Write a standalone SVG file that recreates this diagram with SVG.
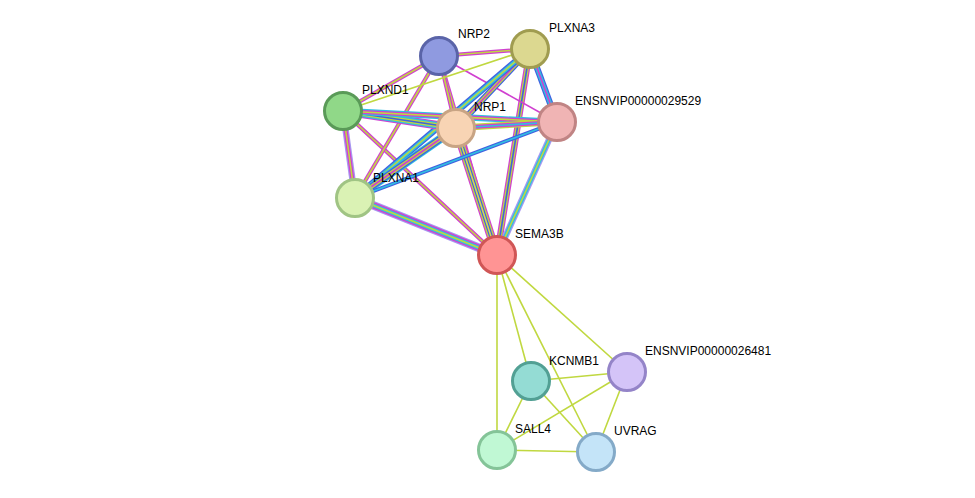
<svg xmlns="http://www.w3.org/2000/svg" width="975" height="498" viewBox="0 0 975 498">
<style>
text{font-family:"Liberation Sans",Arial,sans-serif;font-size:12px;fill:#000}
.n{stroke-width:3}
line{stroke-linecap:butt}
.g{stroke:#c0d840}.m{stroke:#d040d0}.b{stroke:#4060e0}.c{stroke:#30c0e0}.l{stroke:#a898f0}.y{stroke:#d8d850}
.w1{stroke-width:1.6}.w2{stroke-width:4}.w3{stroke-width:6.4}.w4{stroke-width:8.8}
</style>
<rect width="975" height="498" fill="#fff"/>
<g id="edges" fill="none">
<g class="bottom" stroke="#c0d840" stroke-width="1.6">
<line x1="497" y1="255" x2="531" y2="381"/><line x1="497" y1="255" x2="627" y2="372"/>
<line x1="497" y1="255" x2="497" y2="450"/><line x1="497" y1="255" x2="596" y2="452"/>
<line x1="531" y1="381" x2="627" y2="372"/><line x1="531" y1="381" x2="497" y2="450"/>
<line x1="531" y1="381" x2="596" y2="452"/><line x1="627" y1="372" x2="497" y2="450"/>
<line x1="627" y1="372" x2="596" y2="452"/><line x1="497" y1="450" x2="596" y2="452"/>
</g>
<!-- SEMA3B-NRP2 -->
<line x1="497" y1="255" x2="439" y2="56" class="m w2"/><line x1="497" y1="255" x2="439" y2="56" class="g w1"/>
<!-- SEMA3B-PLXNA3 -->
<line x1="497" y1="255" x2="530" y2="49" class="m w3"/><line x1="497" y1="255" x2="530" y2="49" class="g w2"/><line x1="497" y1="255" x2="530" y2="49" class="b w1"/>
<!-- SEMA3B-NRP1 -->
<line x1="497" y1="255" x2="456" y2="128" class="m w4"/><line x1="497" y1="255" x2="456" y2="128" class="g w3"/><line x1="497" y1="255" x2="456" y2="128" class="b w2"/><line x1="497" y1="255" x2="456" y2="128" class="y w1"/>
<!-- SEMA3B-29529 -->
<line x1="497" y1="255" x2="557" y2="122" class="l w3"/><line x1="497" y1="255" x2="557" y2="122" class="c w2"/><line x1="497" y1="255" x2="557" y2="122" class="g w1"/>
<!-- SEMA3B-PLXNA1 -->
<line x1="497" y1="255" x2="355" y2="198" class="l w4"/><line x1="497" y1="255" x2="355" y2="198" class="m w3"/><line x1="497" y1="255" x2="355" y2="198" class="c w2"/><line x1="497" y1="255" x2="355" y2="198" class="g w1"/>
<!-- SEMA3B-PLXND1 -->
<line x1="497" y1="255" x2="343" y2="111" class="m w2"/><line x1="497" y1="255" x2="343" y2="111" class="g w1"/>
<!-- NRP2 edges -->
<line x1="439" y1="56" x2="530" y2="49" class="m w2"/><line x1="439" y1="56" x2="530" y2="49" class="g w1"/>
<line x1="439" y1="56" x2="343" y2="111" class="m w2"/><line x1="439" y1="56" x2="343" y2="111" class="g w1"/>
<line x1="439" y1="56" x2="456" y2="128" class="m w2"/><line x1="439" y1="56" x2="456" y2="128" class="g w1"/>
<line x1="439" y1="56" x2="557" y2="122" class="m w1"/>
<line x1="439" y1="56" x2="355" y2="198" class="m w2"/><line x1="439" y1="56" x2="355" y2="198" class="g w1"/>
<!-- PLXNA3 edges -->
<line x1="530" y1="49" x2="456" y2="128" class="b w3"/><line x1="530" y1="49" x2="456" y2="128" class="g w2"/><line x1="530" y1="49" x2="456" y2="128" class="m w1"/>
<line x1="530" y1="49" x2="557" y2="122" class="b w3"/><line x1="530" y1="49" x2="557" y2="122" class="c w2"/><line x1="530" y1="49" x2="557" y2="122" class="m w1"/>
<line x1="530" y1="49" x2="355" y2="198" class="b w3"/><line x1="530" y1="49" x2="355" y2="198" class="c w2"/><line x1="530" y1="49" x2="355" y2="198" class="g w1"/>
<line x1="530" y1="49" x2="343" y2="111" class="g w1"/>
<!-- PLXND1 edges -->
<line x1="343" y1="111" x2="456" y2="128" class="m w4"/><line x1="343" y1="111" x2="456" y2="128" class="c w3"/><line x1="343" y1="111" x2="456" y2="128" class="g w2"/><line x1="343" y1="111" x2="456" y2="128" class="b w1"/>
<line x1="343" y1="111" x2="557" y2="122" class="c w3"/><line x1="343" y1="111" x2="557" y2="122" class="m w2"/><line x1="343" y1="111" x2="557" y2="122" class="g w1"/>
<line x1="343" y1="111" x2="355" y2="198" class="l w3"/><line x1="343" y1="111" x2="355" y2="198" class="m w2"/><line x1="343" y1="111" x2="355" y2="198" class="g w1"/>
<!-- NRP1 edges -->
<line x1="456" y1="128" x2="557" y2="122" class="g w3"/><line x1="456" y1="128" x2="557" y2="122" class="m w2"/><line x1="456" y1="128" x2="557" y2="122" class="c w1"/>
<line x1="456" y1="128" x2="355" y2="198" class="c w4"/><line x1="456" y1="128" x2="355" y2="198" class="b w3"/><line x1="456" y1="128" x2="355" y2="198" class="g w2"/><line x1="456" y1="128" x2="355" y2="198" class="m w1"/>
<line x1="355" y1="198" x2="557" y2="122" class="b w2"/><line x1="355" y1="198" x2="557" y2="122" class="c w1"/>
</g>
<g id="NRP2"><circle cx="439" cy="56" r="18.5" fill="#8f9ae0" stroke="#5a64a8" class="n"/><text x="458" y="38">NRP2</text></g>
<g id="PLXNA3"><circle cx="530" cy="49" r="18.5" fill="#dcd890" stroke="#a09c50" class="n"/><text x="549" y="32">PLXNA3</text></g>
<g id="PLXND1"><circle cx="343" cy="111" r="18.5" fill="#90d888" stroke="#5a9a58" class="n"/><text x="362" y="94">PLXND1</text></g>
<g id="NRP1"><circle cx="456" cy="128" r="18.5" fill="#f8d4b4" stroke="#c8a484" class="n"/><text x="474" y="111">NRP1</text></g>
<g id="ENSNVIP00000029529"><circle cx="557" cy="122" r="18.5" fill="#f0b4b4" stroke="#c08484" class="n"/><text x="575" y="105">ENSNVIP00000029529</text></g>
<g id="PLXNA1"><circle cx="355" cy="198" r="18.5" fill="#daf2b4" stroke="#a0c484" class="n"/><text x="373" y="182">PLXNA1</text></g>
<g id="SEMA3B"><circle cx="497" cy="255" r="18.5" fill="#ff9494" stroke="#d05656" class="n"/><text x="515" y="238">SEMA3B</text></g>
<g id="KCNMB1"><circle cx="531" cy="381" r="18.5" fill="#94dcd4" stroke="#52a094" class="n"/><text x="549" y="365">KCNMB1</text></g>
<g id="ENSNVIP00000026481"><circle cx="627" cy="372" r="18.5" fill="#d4c4f8" stroke="#9484c8" class="n"/><text x="645" y="355">ENSNVIP00000026481</text></g>
<g id="SALL4"><circle cx="497" cy="450" r="18.5" fill="#c0f8d4" stroke="#84c498" class="n"/><text x="515" y="433">SALL4</text></g>
<g id="UVRAG"><circle cx="596" cy="452" r="18.5" fill="#c4e4f8" stroke="#84aac8" class="n"/><text x="614" y="435">UVRAG</text></g>
</svg>
